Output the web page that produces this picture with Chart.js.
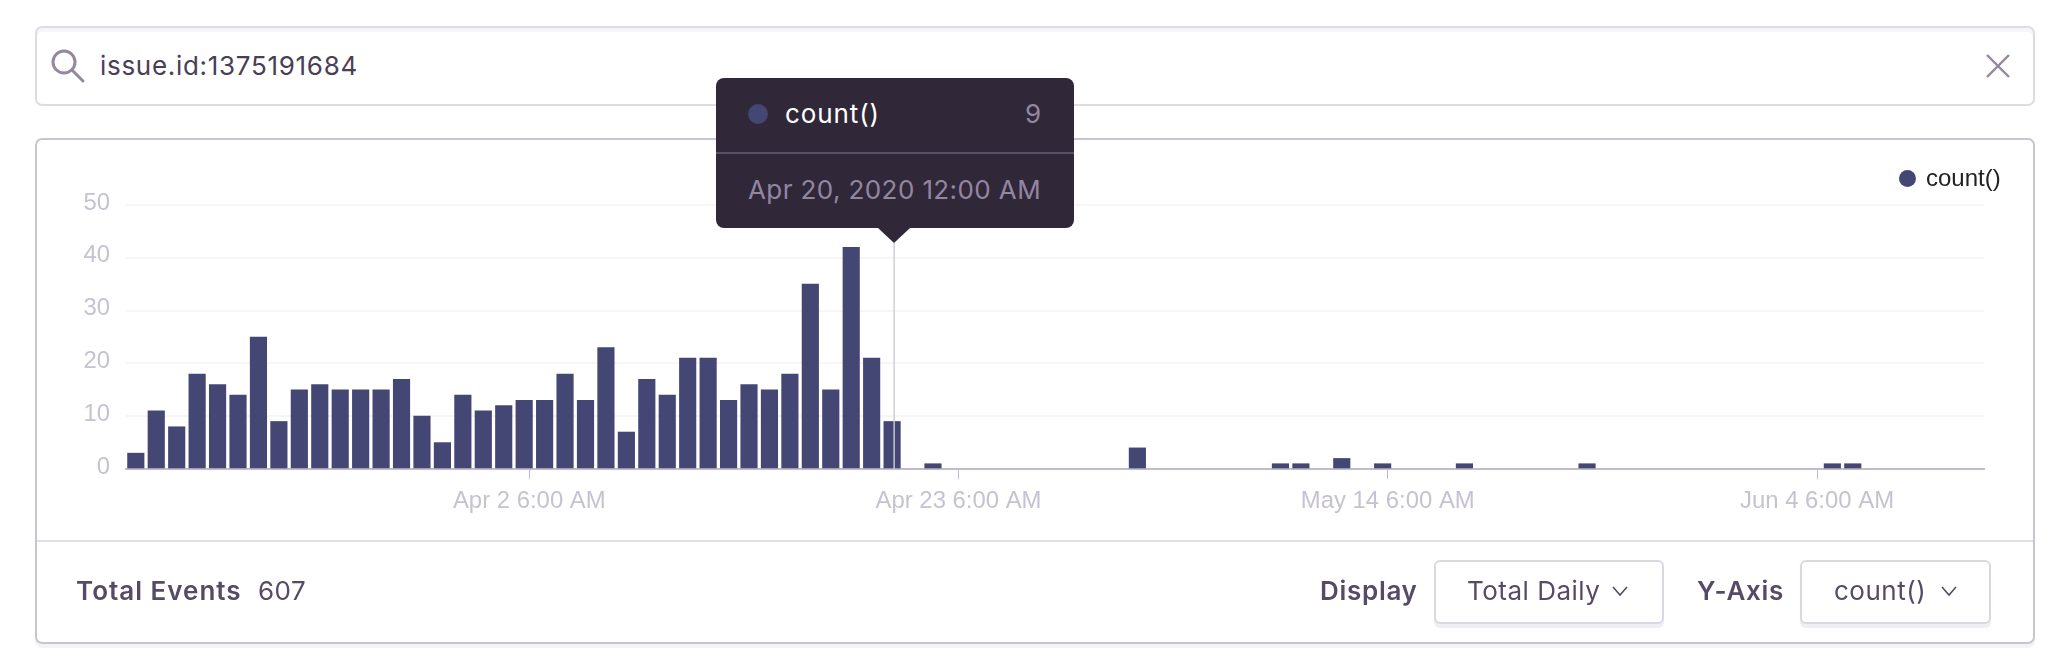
<!DOCTYPE html>
<html>
<head>
<meta charset="utf-8">
<title>count() by day</title>
<script src="https://cdn.jsdelivr.net/npm/chart.js@4"></script>
<style>
  html, body { margin: 0; padding: 0; background: #fff; }
  body { width: 2058px; height: 672px; position: relative; overflow: hidden; font-family: "Inter", sans-serif; }
  .abs { position: absolute; white-space: nowrap; }
  #search { left: 35px; top: 26px; width: 1996px; height: 76px; border: 2px solid #dfdbe6; border-radius: 7px; box-shadow: inset 0 4px 0 #f6f6f9; }
  #panel { left: 35px; top: 138px; width: 1996px; height: 502px; border: 2px solid #c9c4d3; border-radius: 7px; box-shadow: 0 4px 0 #f4f4f7; }
  #divider { left: 37px; top: 540px; width: 1996px; height: 2px; background: #e2dee7; }
  canvas { position: absolute; left: 0; top: 0; pointer-events: none; }
  #query { left: 100px; top: 50px; font-size: 26px; line-height: 32px; color: #4a3e56; letter-spacing: 0.7px; }
  #tip { left: 716px; top: 78px; width: 358px; height: 150px; background: #302839; border-radius: 8px; }
  #tipline { left: 716px; top: 152px; width: 358px; height: 2px; background: #5b5068; }
  #tiparrow { left: 878px; top: 228px; width: 0; height: 0; border-left: 16px solid transparent; border-right: 16px solid transparent; border-top: 15px solid #302839; }
  #tipdot { left: 748px; top: 104px; width: 20px; height: 20px; border-radius: 50%; background: #444674; }
  #tipname { left: 785px; top: 98px; font-size: 26px; line-height: 32px; color: #fff; letter-spacing: 0.9px; }
  #tipval { right: 1017px; top: 98px; font-size: 26px; line-height: 32px; color: #9386a0; }
  #tipdate { left: 748px; top: 174px; font-size: 26px; line-height: 32px; color: #9386a0; letter-spacing: 0.4px; }
  #legdot { left: 1899px; top: 170px; width: 17px; height: 17px; border-radius: 50%; background: #444674; }
  #legname { left: 1926px; top: 164px; font-family: "Liberation Sans", sans-serif; font-size: 24px; line-height: 28px; color: #222; }
  .lab { top: 575px; font-size: 26px; line-height: 32px; font-weight: 600; color: #564b66; letter-spacing: 0.7px; }
  .val { top: 575px; font-size: 26px; line-height: 32px; color: #564b66; letter-spacing: 0.5px; }
  .btn { top: 560px; height: 60px; border: 2px solid #dbd7e2; border-radius: 6px; box-shadow: 0 4px 0 #efeef3; background: #fff; box-sizing: content-box; }
</style>
</head>
<body>
<div class="abs" id="search"></div>
<svg class="abs" style="left:50px;top:48px" width="36" height="36" viewBox="0 0 36 36" fill="none" stroke="#94879f" stroke-width="3">
  <circle cx="14" cy="14" r="11"></circle><line x1="22" y1="22" x2="33" y2="33" stroke-linecap="round"></line>
</svg>
<div class="abs" id="query">issue.id:1375191684</div>
<svg class="abs" style="left:1984px;top:52px" width="28" height="28" viewBox="0 0 28 28" stroke="#94879f" stroke-width="2.4">
  <line x1="3" y1="3" x2="25" y2="25"></line><line x1="25" y1="3" x2="3" y2="25"></line>
</svg>
<div class="abs" id="panel"></div>
<div class="abs" id="divider"></div>

<canvas id="count_chart" width="2058" height="672"></canvas>

<div class="abs" id="legdot"></div>
<div class="abs" id="legname">count()</div>

<div class="abs" id="tip"></div>
<div class="abs" id="tipline"></div>
<div class="abs" id="tiparrow"></div>
<div class="abs" id="tipdot"></div>
<div class="abs" id="tipname">count()</div>
<div class="abs" id="tipval">9</div>
<div class="abs" id="tipdate">Apr 20, 2020 12:00 AM</div>

<div class="abs lab" style="left:76px;letter-spacing:1px">Total Events</div>
<div class="abs val" style="left:258px">607</div>
<div class="abs lab" style="left:1320px">Display</div>
<div class="abs btn" style="left:1434px;width:226px"></div>
<div class="abs val" style="left:1467px">Total Daily</div>
<svg class="abs" style="left:1611px;top:585px" width="18" height="14" viewBox="0 0 18 14" fill="none" stroke="#564b66" stroke-width="1.6"><polyline points="2,2 9,10 16,2"></polyline></svg>
<div class="abs lab" style="left:1697px">Y-Axis</div>
<div class="abs btn" style="left:1800px;width:187px"></div>
<div class="abs val" style="left:1834px">count()</div>
<svg class="abs" style="left:1940px;top:585px" width="18" height="14" viewBox="0 0 18 14" fill="none" stroke="#564b66" stroke-width="1.6"><polyline points="2,2 9,10 16,2"></polyline></svg>

<script>
// days counted from Mar 14 2020, only the days that had events
var days = [0,1,2,3,4,5,6,7,8,9,10,11,12,13,14,15,16,17,18,19,20,21,22,23,24,25,26,27,28,29,30,31,32,33,34,35,36,37,39,49,56,57,59,61,65,71,83,84];
var counts = [3,11,8,18,16,14,25,9,15,16,15,15,15,17,10,5,14,11,12,13,13,18,13,23,7,17,14,21,21,13,16,15,18,35,15,42,21,9,1,4,1,1,2,1,1,1,1,1];
var seriesName = "count()";

var tickDays = [19.25, 40.25, 61.25, 82.25];
var tickLabels = ["Apr 2 6:00 AM", "Apr 23 6:00 AM", "May 14 6:00 AM", "Jun 4 6:00 AM"];
var hoverDay = 37.1;

var axisFont = { family: "Liberation Sans", size: 23.9 };

// the thin line under the tooltip
var hoverLine = {
    id: "hoverLine",
    afterDatasetsDraw: function (chart) {
        var x = chart.scales.x.getPixelForValue(hoverDay);
        var c = chart.ctx;
        c.save();
        c.strokeStyle = "rgba(205,203,213,0.95)";
        c.lineWidth = 1.5;
        c.beginPath();
        c.moveTo(x, 243);
        c.lineTo(x, chart.scales.y.getPixelForValue(0));
        c.stroke();
        c.restore();
    }
};

var ctx = document.getElementById("count_chart");

new Chart(ctx, {
    type: "bar",
    plugins: [hoverLine],
    data: {
        labels: days,
        datasets: [{
            label: seriesName,
            data: counts,
            backgroundColor: "#444674",
            barThickness: 16.5
        }]
    },
    options: {
        responsive: false,
        animation: false,
        events: [],
        layout: { padding: { left: 0, right: 74, top: 205, bottom: 131 } },
        plugins: { legend: { display: false }, tooltip: { enabled: false } },
        scales: {
            x: {
                type: "linear",
                offset: false,
                min: -0.48,
                max: 90.42,
                afterBuildTicks: function (scale) {
                    scale.ticks = tickDays.map(function (d) { return { value: d }; });
                },
                afterFit: function (scale) { scale.height = 72; },
                border: { color: "#c1bccb", width: 2 },
                grid: { offset: false, drawOnChartArea: false, drawTicks: true, tickLength: 10, color: "#c1bccb", lineWidth: 1 },
                ticks: {
                    autoSkip: false,
                    maxRotation: 0,
                    padding: 8,
                    color: "#c6c2d2",
                    font: axisFont,
                    callback: function (v, i) { return tickLabels[i]; }
                }
            },
            y: {
                min: 0,
                max: 50,
                afterFit: function (scale) { scale.width = 126; },
                border: { display: false },
                grid: { color: "#f6f6f8", lineWidth: 2, drawTicks: false },
                ticks: {
                    stepSize: 10,
                    padding: 16,
                    labelOffset: -2,
                    color: "#c6c2d2",
                    font: axisFont
                }
            }
        }
    }
});
</script>
</body>
</html>
